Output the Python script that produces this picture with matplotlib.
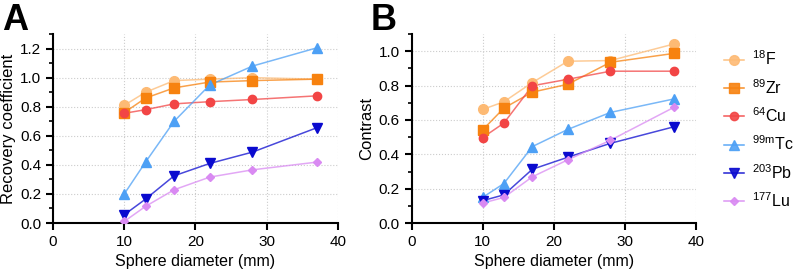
import numpy as np
from matplotlib import pyplot as plt

plt.rcParams['font.family'] = ['Liberation Sans', 'DejaVu Sans']
plt.rcParams['mathtext.fontset'] = 'custom'
plt.rcParams['mathtext.rm'] = 'Liberation Sans'
plt.rcParams['mathtext.it'] = 'Liberation Sans'

diameters = [10, 13, 17, 22, 28, 37]
isotopes = ['$^{18}$F', '$^{89}$Zr', '$^{64}$Cu', '$^{99m}$Tc', '$^{203}$Pb', '$^{177}$Lu']
colors = ['#FDBA74', '#F7820F', '#F24545', '#4DA0F5', '#0A0ACF', '#D98AF2']
markers = ['o', 's', 'o', '^', 'v', 'D']
marker_sizes = [7, 7, 6, 6.5, 6.5, 4.5]

# panel A - recovery coefficient
rc_f18 = [0.81, 0.90, 0.98, 0.99, 1.00, 0.99]
rc_zr89 = [0.76, 0.86, 0.93, 0.97, 0.98, 0.99]
rc_cu64 = [0.755, 0.78, 0.82, 0.835, 0.85, 0.875]
rc_tc99m = [0.20, 0.42, 0.70, 0.95, 1.08, 1.205]
rc_pb203 = [0.057, 0.165, 0.325, 0.41, 0.488, 0.655]
rc_lu177 = [0.011, 0.115, 0.229, 0.316, 0.366, 0.419]

# panel B - contrast
ct_f18 = [0.661, 0.706, 0.818, 0.942, 0.946, 1.043]
ct_zr89 = [0.542, 0.669, 0.762, 0.808, 0.936, 0.988]
ct_cu64 = [0.497, 0.582, 0.799, 0.837, 0.884, 0.884]
ct_tc99m = [0.149, 0.23, 0.445, 0.545, 0.644, 0.723]
ct_pb203 = [0.13, 0.164, 0.313, 0.383, 0.464, 0.561]
ct_lu177 = [0.116, 0.149, 0.269, 0.368, 0.482, 0.675]

rc_data = [rc_f18, rc_zr89, rc_cu64, rc_tc99m, rc_pb203, rc_lu177]
ct_data = [ct_f18, ct_zr89, ct_cu64, ct_tc99m, ct_pb203, ct_lu177]

fig = plt.figure(figsize=(7.96, 2.75), dpi=100)
ax_a = fig.add_axes([0.0666, 0.189, 0.358, 0.687])
ax_b = fig.add_axes([0.517, 0.189, 0.357, 0.687])


def style_axis(ax, ytop, ylabel):
    ax.set_xlim(0, 40)
    ax.set_ylim(0, ytop)
    ax.set_xticks([0, 10, 20, 30, 40])
    ax.set_yticks(np.arange(0, ytop - 0.05, 0.2))
    ax.set_yticks(np.arange(0, ytop + 0.01, 0.1), minor=True)
    ax.yaxis.set_major_formatter(plt.FuncFormatter(lambda v, p: f'{v:.1f}'))
    ax.grid(True, which='major', color='#cccccc', linestyle=':', linewidth=0.8)
    ax.set_axisbelow(True)
    for s in ['top', 'right']:
        ax.spines[s].set_visible(False)
    for s in ['left', 'bottom']:
        ax.spines[s].set_linewidth(1.5)
    ax.tick_params(which='major', length=5, width=1.5, labelsize=11, colors='black')
    ax.tick_params(which='minor', length=3, width=1.2)
    ax.tick_params(axis='x', which='minor', bottom=False)
    ax.set_xlabel('Sphere diameter (mm)', fontsize=11.5)
    if ylabel:
        ax.set_ylabel(ylabel, fontsize=12, labelpad=3)


for ax, data in [(ax_a, rc_data), (ax_b, ct_data)]:
    for i in range(len(isotopes)):
        ax.plot(diameters, data[i], color=colors[i], alpha=0.75, linewidth=1.1, zorder=2)
        ax.plot(diameters, data[i], linestyle='none', marker=markers[i], markersize=marker_sizes[i],
                color=colors[i], zorder=3)

style_axis(ax_a, 1.3, 'Recovery coefficient')
style_axis(ax_b, 1.1, 'Contrast')

# legend handles
handles = []
for i in range(len(isotopes)):
    h, = ax_b.plot([], [], color=colors[i], marker=markers[i], markersize=marker_sizes[i],
                   linewidth=1.1, alpha=0.9)
    handles.append(h)
fig.legend(handles, isotopes, loc='upper left', bbox_to_anchor=(0.895, 0.86), frameon=False,
           fontsize=11.5, handlelength=1.3, labelspacing=0.6, handletextpad=0.5,
           borderpad=0.2)

fig.text(0.003, 0.99, 'A', fontsize=26, fontweight='bold', va='top', ha='left')
fig.text(0.466, 0.99, 'B', fontsize=26, fontweight='bold', va='top', ha='left')

fig.savefig('out.png', dpi=100)
